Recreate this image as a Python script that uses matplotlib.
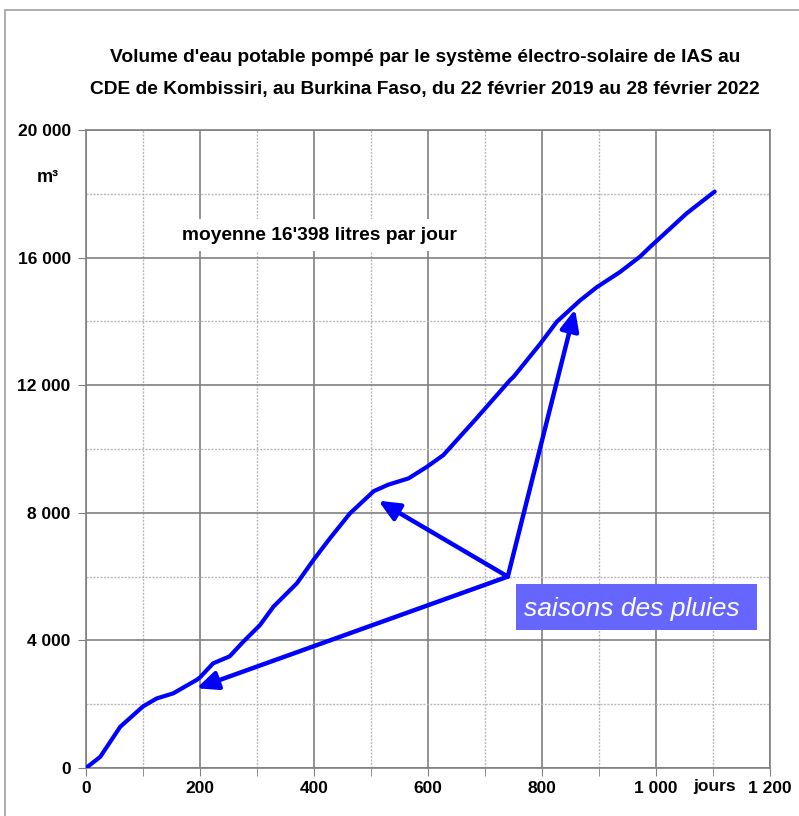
import matplotlib
matplotlib.use("Agg")
import matplotlib.pyplot as plt
from matplotlib.patches import Rectangle, FancyArrowPatch

plt.rcParams['font.family'] = ['Liberation Sans', 'DejaVu Sans']

# volume cumule (m3) par jour depuis le 22 fevrier 2019
jours = [0, 25, 60, 100, 124, 153, 194, 200, 212, 223, 252, 276, 305, 329, 370,
         399, 428, 463, 505, 530, 566, 598, 627, 685, 744, 750, 797, 826, 867,
         896, 937, 972, 990, 1054, 1103]
volume = [0, 350, 1290, 1930, 2180, 2340, 2760, 2840, 3070, 3280, 3500, 3960,
          4475, 5060, 5790, 6520, 7200, 7980, 8680, 8880, 9080, 9440, 9810,
          10960, 12160, 12260, 13300, 13990, 14660, 15070, 15550, 16030, 16340,
          17390, 18070]

x_ticks = [0, 200, 400, 600, 800, 1000, 1200]
x_labels = ['0', '200', '400', '600', '800', '1 000', '1 200']
y_ticks = [0, 4000, 8000, 12000, 16000, 20000]
y_labels = ['0', '4 000', '8 000', '12 000', '16 000', '20 000']

# saisons des pluies: depart commun et pointes des fleches
fleche_depart = (740, 6000)
fleche_pointes = [(194, 2500), (513, 8380), (858, 14380)]

titre = ("Volume d'eau potable pompé par le système électro-solaire de IAS au\n"
         "CDE de Kombissiri, au Burkina Faso, du 22 février 2019 au 28 février 2022")

fig = plt.figure(figsize=(7.99, 8.16), dpi=100)
fig.patches.append(Rectangle((5 / 799, -0.05), 1.0, 1 - 10 / 816 + 0.05,
                             transform=fig.transFigure, fill=False,
                             edgecolor='#a0a0a0', linewidth=1.2))
ax = fig.add_axes([0.1076, 0.0588, 0.8561, 0.7819])

ax.set_xlim(0, 1200)
ax.set_ylim(0, 20000)

ax.set_xticks(x_ticks)
ax.set_xticklabels(x_labels, fontsize=12.5, fontweight='bold')
ax.set_xticks(range(100, 1200, 200), minor=True)
ax.set_yticks(y_ticks)
ax.set_yticklabels(y_labels, fontsize=12.5, fontweight='bold')
ax.set_yticks(range(2000, 20000, 4000), minor=True)
ax.tick_params(axis='x', which='both', length=6, color='#808080', pad=3)
ax.tick_params(axis='y', which='major', length=6, color='#808080', pad=5)
ax.tick_params(axis='y', which='minor', length=0)

ax.grid(which='major', color='#808080', linewidth=1.2, linestyle='-')
ax.grid(which='minor', color='#b8b8b8', linewidth=1.0, linestyle=(0, (1.5, 1)))
ax.set_axisbelow(True)
for s in ax.spines.values():
    s.set_color('#808080')
    s.set_linewidth(1.2)

ax.plot(jours, volume, color='#0000ff', linewidth=3, solid_capstyle='round', zorder=3)

for pointe in fleche_pointes:
    ax.add_patch(FancyArrowPatch(fleche_depart, pointe,
                                 arrowstyle='-|>,head_length=0.9,head_width=0.4',
                                 mutation_scale=14, color='#0000ff',
                                 linewidth=3.2, shrinkA=0, shrinkB=0, zorder=4))

ax.add_patch(Rectangle((754, 4325), 423, 1445, facecolor='#6666ff',
                       edgecolor='none', zorder=5))
ax.text(958, 5000, 'saisons des pluies', fontsize=19, style='italic',
        color='white', ha='center', va='center', zorder=6)

ax.text(168, 16700, "moyenne 16'398 litres par jour", fontsize=13.8,
        fontweight='bold', ha='left', va='center', zorder=2,
        bbox=dict(boxstyle='square,pad=0.4', facecolor='white', edgecolor='none'))

ax.text(-0.056, 18500, 'm³', transform=ax.get_yaxis_transform(), fontsize=13,
        fontweight='bold', ha='center', va='center')
ax.text(1102, -330, 'jours', fontsize=12.5, fontweight='bold', ha='center', va='top')

fig.text(0.532, 0.910, titre, fontsize=13.8, fontweight='bold', ha='center',
         va='center', linespacing=2.1)

fig.savefig('out.png', dpi=100)
